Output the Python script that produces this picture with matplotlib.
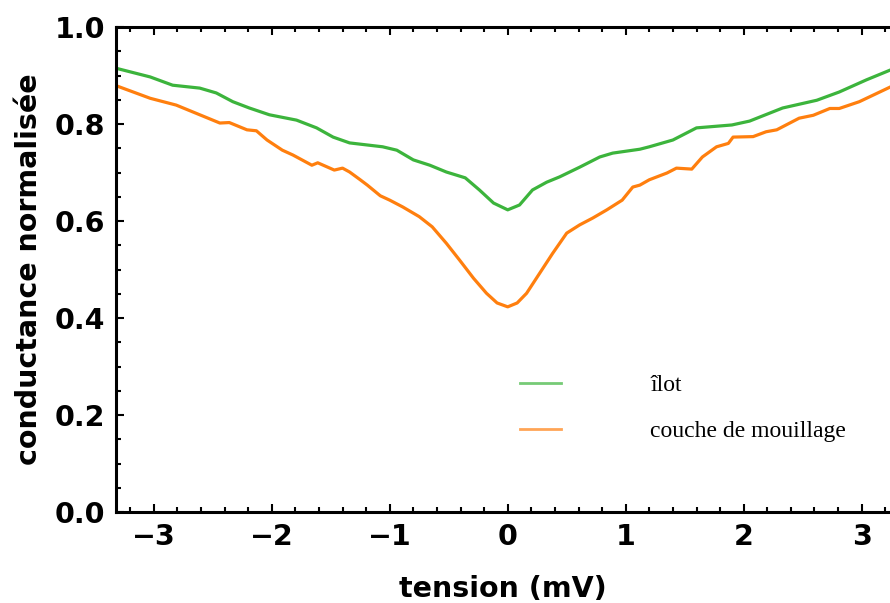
import matplotlib
matplotlib.use("Agg")
import matplotlib.pyplot as plt
from matplotlib.ticker import MultipleLocator

# Data
ilot_x = [-3.32, -3.03, -2.84, -2.61, -2.47, -2.33, -2.19, -2.02, -1.79, -1.62, -1.48, -1.34,
          -1.06, -0.94, -0.80, -0.66, -0.52, -0.36, -0.24, -0.12, 0.0, 0.10, 0.21, 0.33, 0.44,
          0.61, 0.78, 0.89, 1.12, 1.20, 1.40, 1.60, 1.90, 2.05, 2.33, 2.62, 2.81, 3.04, 3.24]
ilot_y = [0.915, 0.897, 0.880, 0.874, 0.864, 0.846, 0.833, 0.819, 0.808, 0.792, 0.773, 0.761,
          0.753, 0.746, 0.726, 0.715, 0.701, 0.689, 0.664, 0.637, 0.623, 0.633, 0.664, 0.680, 0.691,
          0.711, 0.732, 0.740, 0.748, 0.753, 0.767, 0.792, 0.798, 0.806, 0.833, 0.849, 0.866, 0.891, 0.911]

couche_x = [-3.33, -3.03, -2.81, -2.61, -2.44, -2.36, -2.21, -2.13, -2.04, -1.91, -1.82, -1.66,
            -1.61, -1.47, -1.40, -1.34, -1.25, -1.19, -1.08, -1.00, -0.89, -0.75, -0.64, -0.52,
            -0.41, -0.29, -0.18, -0.09, 0.0, 0.08, 0.16, 0.27, 0.38, 0.50, 0.61, 0.72, 0.84,
            0.97, 1.06, 1.12, 1.20, 1.35, 1.43, 1.56, 1.65, 1.77, 1.87, 1.91, 2.08, 2.19, 2.28,
            2.47, 2.59, 2.73, 2.81, 2.98, 3.24]
couche_y = [0.880, 0.853, 0.839, 0.819, 0.802, 0.803, 0.788, 0.786, 0.767, 0.746, 0.736, 0.715,
            0.720, 0.705, 0.709, 0.701, 0.685, 0.674, 0.652, 0.643, 0.629, 0.609, 0.588, 0.554,
            0.520, 0.482, 0.451, 0.431, 0.423, 0.431, 0.451, 0.492, 0.533, 0.575, 0.592, 0.606, 0.623,
            0.643, 0.670, 0.674, 0.685, 0.699, 0.709, 0.707, 0.732, 0.753, 0.760, 0.773, 0.774, 0.784, 0.788,
            0.812, 0.818, 0.832, 0.832, 0.846, 0.876]

labels = ["îlot", "couche de mouillage"]
colors = ["#3cb43c", "#ff7f0e"]
xticks = [-3, -2, -1, 0, 1, 2, 3]
xticklabels = ["\u22123", "\u22122", "\u22121", "0", "1", "2", "3"]
yticks = [0.0, 0.2, 0.4, 0.6, 0.8, 1.0]
yticklabels = ["0.0", "0.2", "0.4", "0.6", "0.8", "1.0"]

fig = plt.figure(figsize=(8.9, 6.03), dpi=100)
ax = fig.add_axes([116/890, 1 - 512/603, 1 - 116/890, (512 - 27)/603])

ax.plot(ilot_x, ilot_y, color=colors[0], lw=2.3, label=labels[0], solid_joinstyle="round")
ax.plot(couche_x, couche_y, color=colors[1], lw=2.3, label=labels[1], solid_joinstyle="round")

ax.set_xlim(-3.32, 3.24)
ax.set_ylim(0, 1.0)

ax.set_xticks(xticks)
ax.set_xticklabels(xticklabels)
ax.set_yticks(yticks)
ax.set_yticklabels(yticklabels)
ax.xaxis.set_minor_locator(MultipleLocator(0.2))
ax.yaxis.set_minor_locator(MultipleLocator(0.05))

ax.tick_params(which="both", direction="in", top=True, right=False, width=1.5)
ax.tick_params(which="major", length=6)
ax.tick_params(which="minor", length=3.5)
ax.tick_params(axis="both", which="major", pad=8)
for lab in ax.get_xticklabels() + ax.get_yticklabels():
    lab.set_fontfamily("DejaVu Sans")
    lab.set_fontweight("bold")
    lab.set_fontsize(20.5)

for s in ["left", "bottom", "top"]:
    ax.spines[s].set_linewidth(2.2)
ax.spines["right"].set_visible(False)

ax.set_xlabel("tension (mV)", fontsize=20.5, fontweight="bold", family="DejaVu Sans", labelpad=17)
ax.set_ylabel("conductance normalisée", fontsize=20.5, fontweight="bold", family="DejaVu Sans", labelpad=8)

leg = ax.legend(loc="upper left", bbox_to_anchor=(0.495, 0.327), frameon=False,
                handlelength=1.7, handletextpad=3.8, labelspacing=1.03,
                prop={"family": "Liberation Serif", "size": 17})
for h in leg.get_lines():
    h.set_alpha(0.7)
    h.set_linewidth(2)

fig.savefig("out.png", dpi=100)
